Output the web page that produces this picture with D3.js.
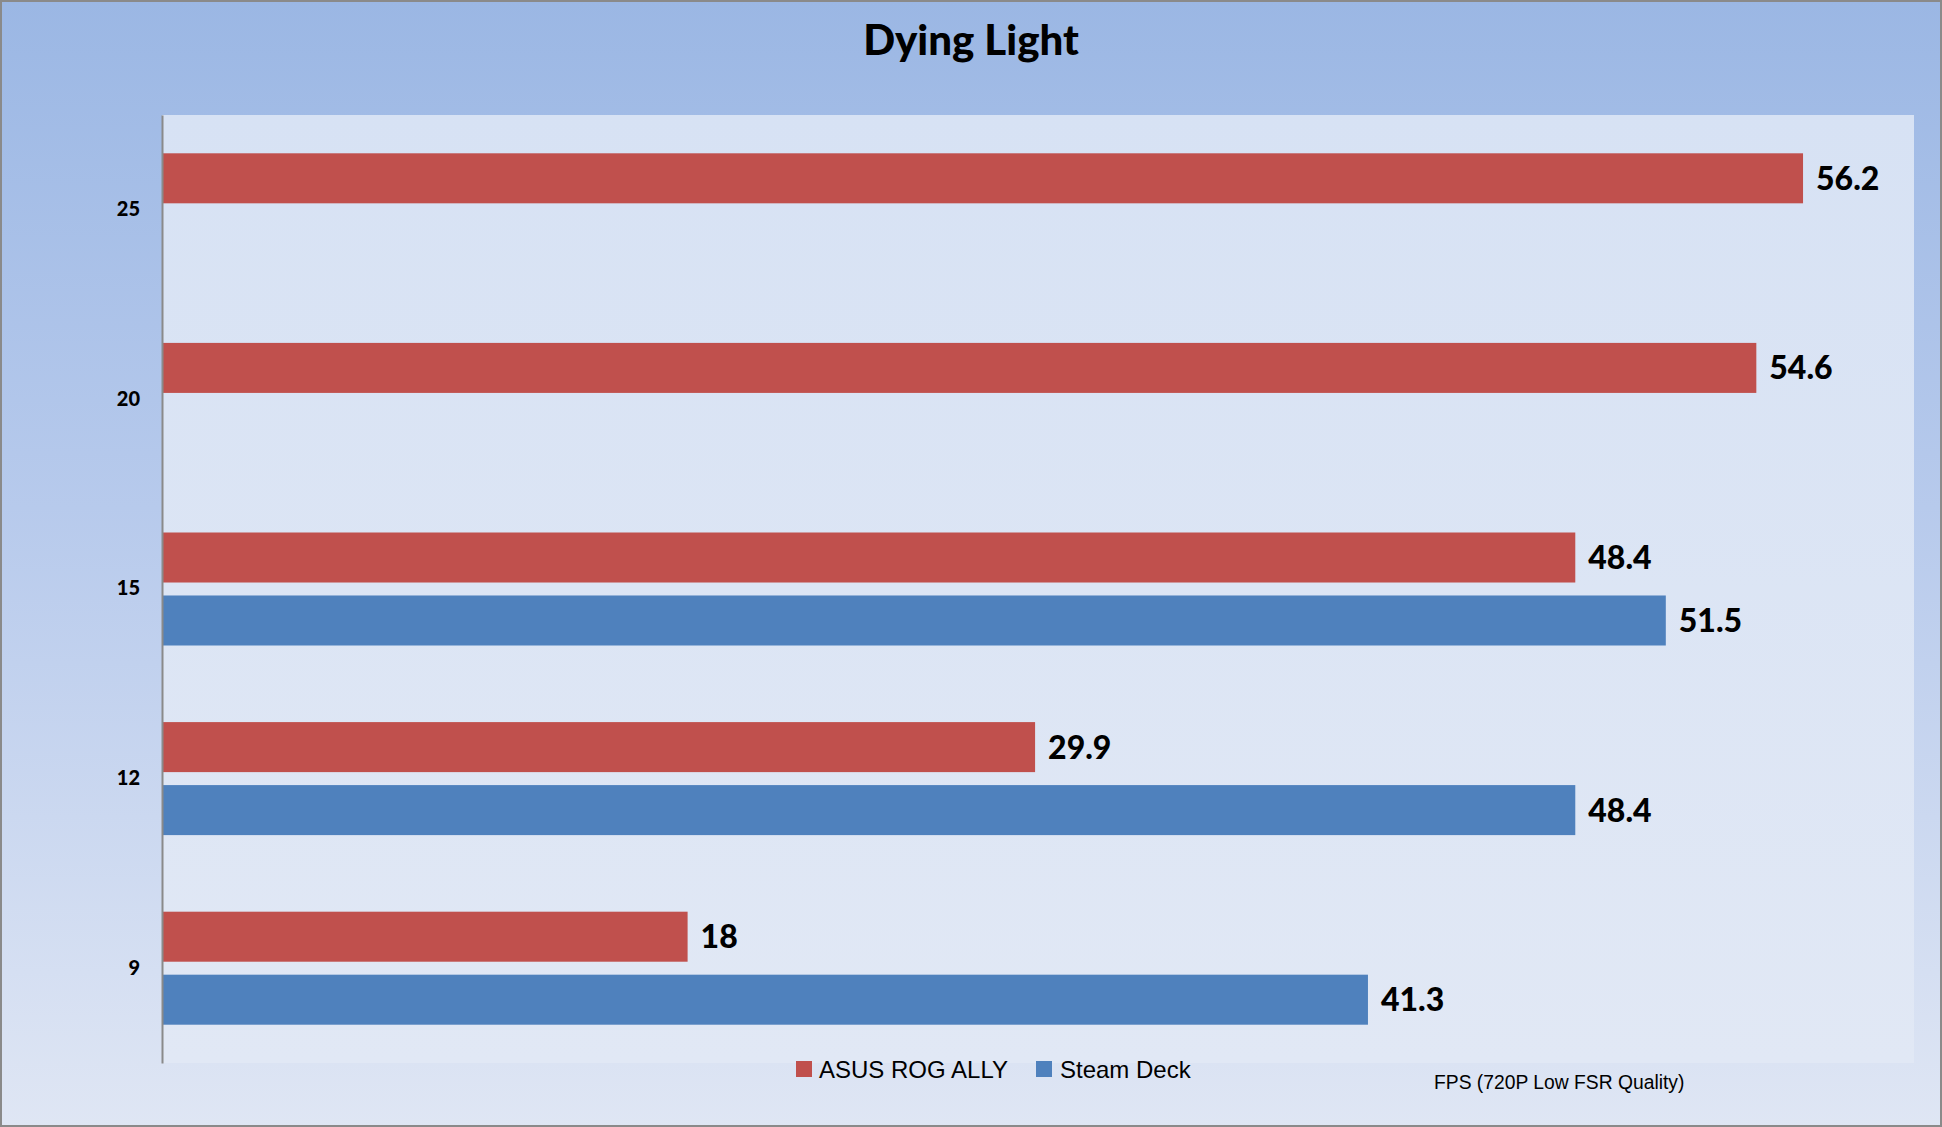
<!DOCTYPE html>
<html>
<head>
<meta charset="utf-8">
<script src="https://cdn.jsdelivr.net/npm/d3@7/dist/d3.min.js"></script>
<style>
  html, body { margin: 0; padding: 0; background: #fff; }
  svg { display: block; }
</style>
</head>
<body>
<svg id="chart" width="1942" height="1127"></svg>
<script>
const title = "Dying Light";
const categories = ["25", "20", "15", "12", "9"];
const seriesNames = ["ASUS ROG ALLY", "Steam Deck"];
const asusValues = [56.2, 54.6, 48.4, 29.9, 18];
const steamValues = [null, null, 51.5, 48.4, 41.3];
const seriesColors = ["#c0504d", "#4f81bd"];
const axisTitle = "FPS (720P Low FSR Quality)";
const xMax = 60;

const W = 1942, H = 1127;
const plot = { left: 162, right: 1914, top: 115, bottom: 1063 };

const svg = d3.select("#chart");
const defs = svg.append("defs");

const g1 = defs.append("linearGradient").attr("id", "outerGrad")
  .attr("x1", 0).attr("y1", 0).attr("x2", 0).attr("y2", 1);
g1.append("stop").attr("offset", "0%").attr("stop-color", "#9bb7e4");
g1.append("stop").attr("offset", "45%").attr("stop-color", "#b7caec");
g1.append("stop").attr("offset", "100%").attr("stop-color", "#dfe6f4");

const g2 = defs.append("linearGradient").attr("id", "plotGrad")
  .attr("x1", 0).attr("y1", 0).attr("x2", 0).attr("y2", 1);
g2.append("stop").attr("offset", "0%").attr("stop-color", "#d7e2f4");
g2.append("stop").attr("offset", "100%").attr("stop-color", "#e1e8f5");

// outer background
svg.append("rect").attr("x", 1).attr("y", 1).attr("width", W - 2).attr("height", H - 2)
  .attr("fill", "url(#outerGrad)").attr("stroke", "#8a8a8a").attr("stroke-width", 2);

// plot area
svg.append("rect").attr("x", plot.left).attr("y", plot.top)
  .attr("width", plot.right - plot.left).attr("height", plot.bottom - plot.top)
  .attr("fill", "url(#plotGrad)");

// title
svg.append("text").attr("x", W / 2).attr("y", 55).attr("text-anchor", "middle")
  .attr("font-family", "Lato, 'Open Sans', sans-serif").attr("font-weight", 900)
  .attr("font-size", 42).attr("fill", "#000").text(title);

const x = d3.scaleLinear().domain([0, xMax]).range([plot.left, plot.right]);
const y0 = d3.scaleBand().domain(categories).range([plot.top, plot.bottom])
  .paddingInner(0.404).paddingOuter(0.202);
const y1 = d3.scaleBand().domain(seriesNames).range([0, y0.bandwidth()])
  .paddingInner(0.206).paddingOuter(0);

const rows = categories.map((c, i) => ({ cat: c, vals: [asusValues[i], steamValues[i]] }));

const groups = svg.append("g").selectAll("g").data(rows).join("g")
  .attr("transform", d => `translate(0,${y0(d.cat)})`);

const bars = groups.selectAll("g.bar")
  .data(d => d.vals.map((v, j) => ({ v, s: seriesNames[j], j })).filter(e => e.v != null))
  .join("g").attr("class", "bar");

bars.append("rect")
  .attr("x", x(0)).attr("y", d => y1(d.s))
  .attr("width", d => x(d.v) - x(0)).attr("height", y1.bandwidth())
  .attr("fill", d => seriesColors[d.j]);

bars.append("text")
  .attr("x", d => x(d.v) + 13).attr("y", d => y1(d.s) + y1.bandwidth() / 2)
  .attr("dy", "0.36em")
  .attr("font-family", "Lato, 'Open Sans', sans-serif").attr("font-weight", 900)
  .attr("font-size", 32).attr("fill", "#000")
  .text(d => d.v);

// axis
const axis = d3.axisLeft(y0).tickSize(0).tickSizeOuter(0).tickPadding(22);
const ax = svg.append("g").attr("transform", `translate(${plot.left},0)`).call(axis);
ax.select(".domain").attr("stroke", "#8a8a8a").attr("stroke-width", 2);
ax.selectAll("text").attr("font-family", "Lato, 'Open Sans', sans-serif")
  .attr("font-weight", 900).attr("font-size", 20).attr("fill", "#000");

// legend
const legendItems = [
  { name: seriesNames[0], color: seriesColors[0], sx: 796, tx: 819 },
  { name: seriesNames[1], color: seriesColors[1], sx: 1036, tx: 1060 }
];
const lg = svg.append("g");
lg.selectAll("rect").data(legendItems).join("rect")
  .attr("x", d => d.sx).attr("y", 1061).attr("width", 16).attr("height", 16)
  .attr("fill", d => d.color);
lg.selectAll("text").data(legendItems).join("text")
  .attr("x", d => d.tx).attr("y", 1078)
  .attr("font-family", "'Liberation Sans', Arial, sans-serif")
  .attr("font-size", 24).attr("fill", "#000").text(d => d.name);

svg.append("text").attr("x", 1434).attr("y", 1089)
  .attr("font-family", "'Liberation Sans', Arial, sans-serif")
  .attr("font-size", 19.3).attr("fill", "#000").text(axisTitle);
</script>
</body>
</html>
